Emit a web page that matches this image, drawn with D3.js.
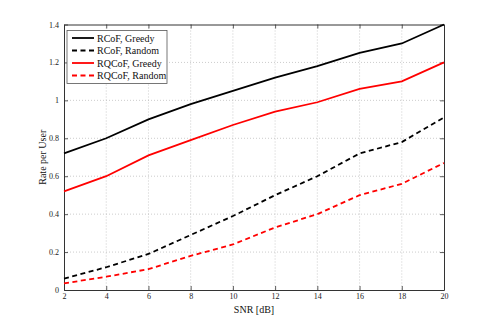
<!DOCTYPE html>
<html><head><meta charset="utf-8">
<script src="https://cdn.jsdelivr.net/npm/d3@7"></script>
<style>body{margin:0;background:#fff}svg{display:block}</style>
</head><body>
<svg id="c" width="491" height="327"></svg>
<script>
const snr = [2,4,6,8,10,12,14,16,18,20];
const rcofGreedy = [0.72,0.80,0.90,0.98,1.05,1.12,1.18,1.25,1.30,1.40];
const rcofRandom = [0.06,0.12,0.19,0.29,0.39,0.50,0.60,0.72,0.78,0.91];
const rqcofGreedy = [0.52,0.60,0.71,0.79,0.87,0.94,0.99,1.06,1.10,1.20];
const rqcofRandom = [0.035,0.07,0.11,0.18,0.24,0.33,0.40,0.50,0.56,0.67];
const xTicks = [2,4,6,8,10,12,14,16,18,20];
const yTicks = [0,0.2,0.4,0.6,0.8,1,1.2,1.4];
const seriesNames = ["RCoF, Greedy","RCoF, Random","RQCoF, Greedy","RQCoF, Random"];
const seriesColors = ["#000","#000","#ff0000","#ff0000"];
const seriesDash = [false,true,false,true];
const seriesData = [rcofGreedy,rcofRandom,rqcofGreedy,rqcofRandom];

const svg = d3.select("#c");
const L=64,R=444,T=24.5,B=290;
const x = d3.scaleLinear().domain([2,20]).range([L,R]);
const y = d3.scaleLinear().domain([0,1.4]).range([B,T]);
const font = "'Liberation Serif','Times New Roman',serif";

// grid
const g = svg.append("g");
g.selectAll(".gx").data(xTicks.slice(1,-1)).enter().append("line")
 .attr("x1",d=>x(d)).attr("x2",d=>x(d)).attr("y1",T).attr("y2",B)
 .attr("stroke","#aaa").attr("stroke-width",0.6).attr("stroke-dasharray","1,2");
g.selectAll(".gy").data(yTicks.slice(1,-1)).enter().append("line")
 .attr("y1",d=>y(d)).attr("y2",d=>y(d)).attr("x1",L).attr("x2",R)
 .attr("stroke","#aaa").attr("stroke-width",0.6).attr("stroke-dasharray","1,2");

// axes
const xa = svg.append("g").attr("transform",`translate(0,${B})`)
 .call(d3.axisBottom(x).tickValues(xTicks).tickSizeInner(-4).tickSizeOuter(0).tickPadding(3).tickFormat(d3.format("d")));
const ya = svg.append("g").attr("transform",`translate(${L},0)`)
 .call(d3.axisLeft(y).tickValues(yTicks).tickSizeInner(-4).tickSizeOuter(0).tickPadding(5).tickFormat(d=>d===0?"0":(d===1?"1":d3.format(".1f")(d))));
const xt = svg.append("g").attr("transform",`translate(0,${T})`)
 .call(d3.axisTop(x).tickValues(xTicks).tickSizeInner(-4).tickSizeOuter(0).tickFormat(""));
const yr = svg.append("g").attr("transform",`translate(${R},0)`)
 .call(d3.axisRight(y).tickValues(yTicks).tickSizeInner(-4).tickSizeOuter(0).tickFormat(""));
[xa,ya,xt,yr].forEach(a=>{
  a.selectAll("path").attr("stroke","#333").attr("stroke-width",1);
  a.selectAll("line").attr("stroke","#333").attr("stroke-width",0.8);
  a.selectAll("text").attr("font-family",font).attr("font-size",8).attr("fill","#222");
});

// lines
const line = d3.line().x((d,i)=>x(snr[i])).y(d=>y(d));
seriesData.forEach((s,k)=>{
  svg.append("path").datum(s).attr("d",line).attr("fill","none")
   .attr("stroke",seriesColors[k]).attr("stroke-width",1.8)
   .attr("stroke-dasharray",seriesDash[k]?"5,3.5":null);
});

// labels
svg.append("text").attr("x",254).attr("y",313).attr("text-anchor","middle")
 .attr("font-family",font).attr("font-size",10).attr("fill","#111").text("SNR [dB]");
svg.append("text").attr("transform",`translate(46,${(T+B)/2}) rotate(-90)`).attr("text-anchor","middle")
 .attr("font-family",font).attr("font-size",10).attr("fill","#111").text("Rate per User");

// legend
const lg = svg.append("g");
lg.append("rect").attr("x",67).attr("y",30.5).attr("width",100).attr("height",53)
 .attr("fill","#fff").attr("stroke","#555").attr("stroke-width",0.8);
seriesNames.forEach((n,k)=>{
  const yy = 38+k*12.5;
  lg.append("line").attr("x1",72).attr("x2",94).attr("y1",yy).attr("y2",yy)
   .attr("stroke",seriesColors[k]).attr("stroke-width",1.8)
   .attr("stroke-dasharray",seriesDash[k]?"5,3.5":null);
  lg.append("text").attr("x",97).attr("y",yy+3.5).attr("font-family",font)
   .attr("font-size",10).attr("fill","#111").text(n);
});
</script>
</body></html>
